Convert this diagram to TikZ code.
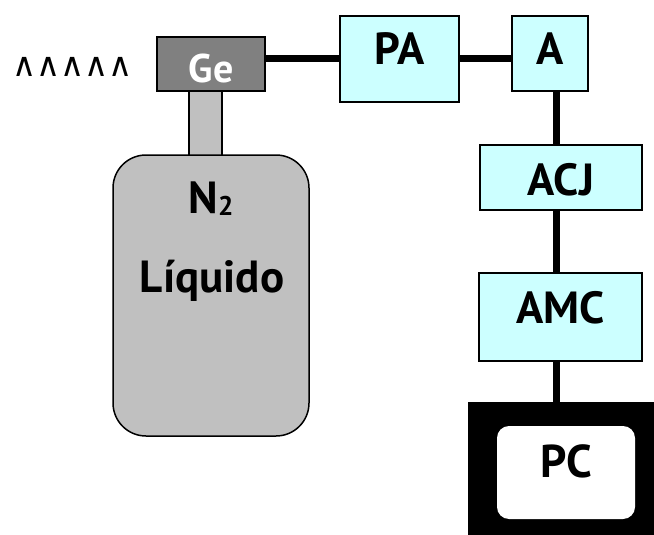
\documentclass[tikz,border=0pt]{standalone}
\usepackage{fontspec}
\setmainfont{PT Sans}
\newfontfamily\symfont{DejaVu Sans}

\definecolor{boxcyan}{HTML}{CCFFFF}
\definecolor{gegray}{HTML}{808080}
\definecolor{tankgray}{HTML}{C0C0C0}

\begin{document}
\begin{tikzpicture}[x=1pt, y=-1pt,
    box/.style={draw=black, line width=1.5pt, fill=boxcyan, inner sep=0pt,
                font=\fontsize{45}{45}\selectfont\bfseries},
    wire/.style={line width=7pt}]
    \useasboundingbox (0,0) rectangle (654,535);

    % Dewar with liquid nitrogen
    \draw[line width=1.5pt, fill=tankgray] (189,91) rectangle (222,157);
    \node[draw, line width=1.5pt, fill=tankgray, rounded corners=33pt,
          minimum width=196pt, minimum height=281pt] (tank) at (211,295.5) {};
    \node[anchor=base, font=\fontsize{45}{45}\selectfont\bfseries] (n2) at (211,213)
        {N{\fontsize{27}{27}\selectfont\raisebox{-2pt}{2}}};
    \node[anchor=base, font=\fontsize{45}{45}\selectfont\bfseries] (liquid) at (212,292) {Líquido};

    % Detector
    \node[draw, line width=1.5pt, fill=gegray, text=white, inner sep=0pt,
          minimum width=108pt, text height=46pt, text depth=8pt,
          font=\fontsize{40}{40}\selectfont\bfseries] (Ge) at (211,64) {Ge};
    \node[font=\symfont\fontsize{33}{33}\selectfont] (gamma) at (72.5,67)
        {∧\kern0pt∧\kern0pt∧\kern0pt∧\kern0pt∧};

    % Electronics chain
    \node[box, minimum width=119pt, text height=49pt, text depth=37pt] (PA) at (399.5,59) {PA};
    \node[box, minimum width=76pt, text height=49pt, text depth=26pt] (A) at (550,53.5) {A};
    \node[box, minimum width=162pt, text height=50pt, text depth=15pt] (ACJ) at (561,177.5) {ACJ};
    \node[box, minimum width=163pt, text height=50pt, text depth=38pt] (AMC) at (560.5,317) {AMC};

    % Computer
    \node[fill=black, inner sep=0pt, minimum width=190pt, minimum height=140pt,
          anchor=north west] (monitor) at (468,402) {};
    \node[fill=white, rounded corners=12pt, inner sep=0pt, minimum width=138pt,
          text height=51pt, text depth=42pt,
          font=\fontsize{46}{46}\selectfont\bfseries] (PC) at (566,472.5) {PC};

    % Cables
    \coordinate (bus) at (556,0);
    \draw[wire] (Ge.east |- PA.west) -- (PA.west);
    \draw[wire] (PA.east) -- (PA.east -| A.west);
    \draw[wire] (A.south -| bus) -- (ACJ.north -| bus);
    \draw[wire] (ACJ.south -| bus) -- (AMC.north -| bus);
    \draw[wire] (AMC.south -| bus) -- (monitor.north -| bus);
\end{tikzpicture}
\end{document}
